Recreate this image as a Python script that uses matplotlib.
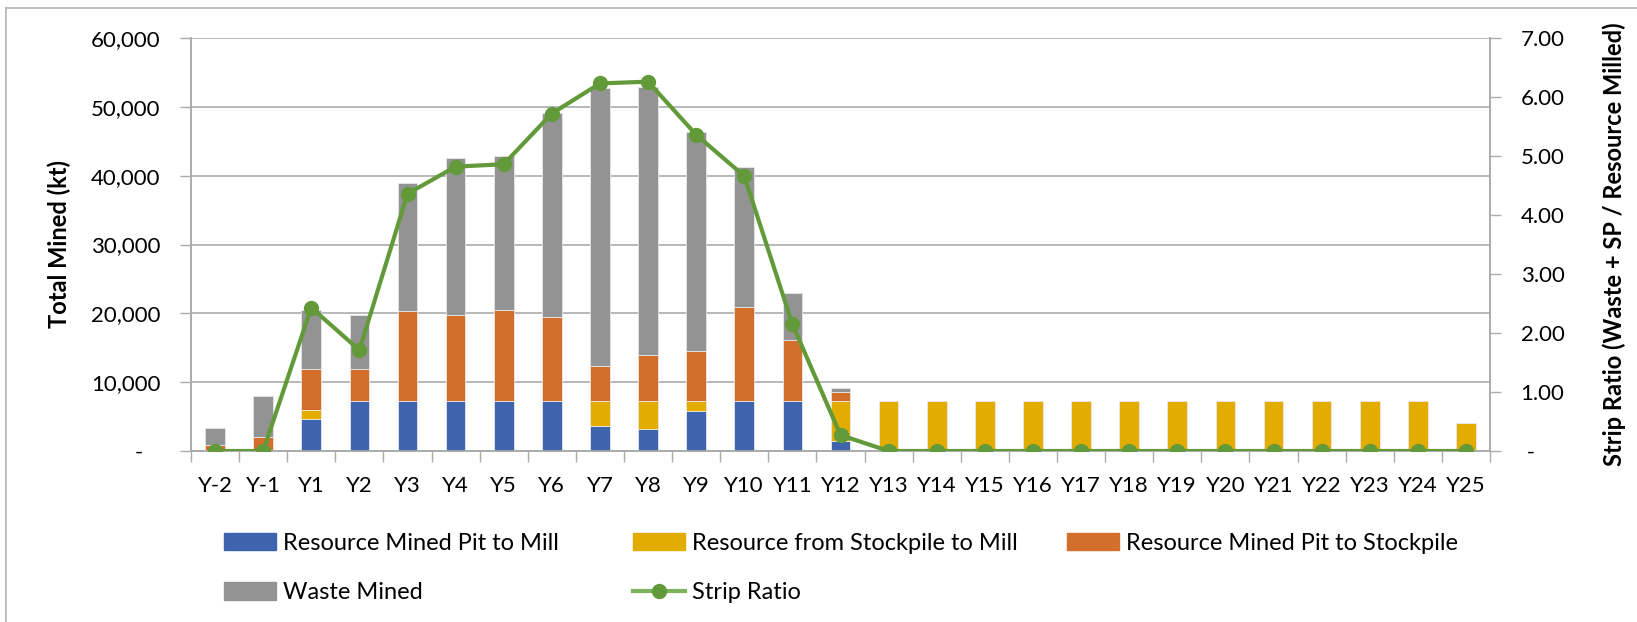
import matplotlib
matplotlib.use("Agg")
import matplotlib.pyplot as plt
from matplotlib.ticker import FuncFormatter, FixedLocator
from matplotlib.lines import Line2D
import numpy as np

plt.rcParams['font.family'] = ['Lato', 'DejaVu Sans']

# data (kt)
years = ['Y-2', 'Y-1', 'Y1', 'Y2', 'Y3', 'Y4', 'Y5', 'Y6', 'Y7', 'Y8', 'Y9',
         'Y10', 'Y11', 'Y12', 'Y13', 'Y14', 'Y15', 'Y16', 'Y17', 'Y18', 'Y19',
         'Y20', 'Y21', 'Y22', 'Y23', 'Y24', 'Y25']
pit_to_mill = [0, 0, 4700, 7260, 7260, 7260, 7260, 7260, 3600, 3200, 5800,
               7260, 7260, 1450, 0, 0, 0, 0, 0, 0, 0, 0, 0, 0, 0, 0, 0]
stockpile_to_mill = [0, 0, 1300, 0, 0, 0, 0, 0, 3660, 4060, 1460,
                     0, 0, 5810, 7260, 7260, 7260, 7260, 7260, 7260, 7260,
                     7260, 7260, 7260, 7260, 7260, 4000]
pit_to_stockpile = [800, 2100, 5900, 4640, 13140, 12440, 13240, 12140, 5140, 6640, 7240,
                    13640, 8840, 1240, 0, 0, 0, 0, 0, 0, 0, 0, 0, 0, 0, 0, 0]
waste = [2500, 5900, 8600, 7800, 18600, 22900, 22400, 29700, 40400, 39000, 31800,
         20400, 6900, 700, 0, 0, 0, 0, 0, 0, 0, 0, 0, 0, 0, 0, 0]
strip_ratio = [0.0, 0.0, 2.43, 1.71, 4.36, 4.82, 4.86, 5.72, 6.23, 6.26, 5.36,
               4.66, 2.15, 0.27, 0, 0, 0, 0, 0, 0, 0, 0, 0, 0, 0, 0, 0]

c_blue = '#3D64AD'
c_yellow = '#E2AC00'
c_orange = '#D46F2B'
c_gray = '#939393'
c_green = '#629A3A'
c_grid = '#ABABAB'

W, H = 1637, 622
fig = plt.figure(figsize=(W / 100, H / 100), dpi=100)
ax = fig.add_axes([191 / W, 1 - 451 / H, (1490 - 191) / W, (451 - 38) / H])
ax2 = ax.twinx()

# chart-area border (only top and left edges are inside the crop)
fig.add_artist(Line2D([6 / W, 1], [1 - 8 / H, 1 - 8 / H], color='#B4B4B4', lw=1.2,
                      transform=fig.transFigure))
fig.add_artist(Line2D([6 / W, 6 / W], [0, 1 - 8 / H], color='#B4B4B4', lw=1.2,
                      transform=fig.transFigure))

x = np.arange(len(years))
w = 0.41
b1 = np.array(pit_to_mill)
b2 = b1 + np.array(stockpile_to_mill)
b3 = b2 + np.array(pit_to_stockpile)
kw = dict(width=w, edgecolor='#E8E8E8', linewidth=0.6, zorder=3)
ax.bar(x, pit_to_mill, color=c_blue, **kw)
ax.bar(x, stockpile_to_mill, bottom=b1, color=c_yellow, **kw)
ax.bar(x, pit_to_stockpile, bottom=b2, color=c_orange, **kw)
ax.bar(x, waste, bottom=b3, color=c_gray, **kw)

ax2.plot(x, strip_ratio, color=c_green, lw=3, marker='o', ms=10, zorder=5)

ax.set_xlim(-0.5, len(years) - 0.5)
ax.set_ylim(0, 60000)
ax.set_yticks(np.arange(0, 60001, 10000))
ax.yaxis.set_major_formatter(FuncFormatter(lambda v, p: '-   ' if v == 0 else f'{v:,.0f}'))
ax2.set_ylim(0, 7)
ax2.set_yticks(np.arange(0, 7.01, 1))
ax2.yaxis.set_major_formatter(FuncFormatter(lambda v, p: ' -' if v == 0 else f'{v:.2f}'))

ax.set_xticks(x)
ax.set_xticklabels(years)
ax.xaxis.set_minor_locator(FixedLocator(np.arange(-0.5, len(years), 1)))
ax.tick_params(axis='x', which='major', length=0, pad=18, labelsize=16)
ax.tick_params(axis='x', which='minor', length=8, color=c_grid, width=1)
ax.tick_params(axis='y', length=8, color=c_grid, width=1, pad=14, labelsize=16)
ax2.tick_params(axis='y', length=8, color=c_grid, width=1, pad=14, labelsize=16)

ax.grid(axis='y', color=c_grid, lw=1.2, zorder=0)
ax.set_axisbelow(True)
for a in (ax, ax2):
    a.spines['top'].set_visible(False)
    for s in ('left', 'right', 'bottom'):
        a.spines[s].set_color(c_grid)
        a.spines[s].set_linewidth(1.2)

ax.set_ylabel('Total Mined (kt)', fontsize=17, fontweight='bold', labelpad=14)
ax2.set_ylabel('Strip Ratio (Waste + SP / Resource Milled)', fontsize=17,
               fontweight='bold', labelpad=27)

# legend: three single-column legends placed like Excel's layout
h_blue = plt.Rectangle((0, 0), 1, 1, color=c_blue)
h_yellow = plt.Rectangle((0, 0), 1, 1, color=c_yellow)
h_orange = plt.Rectangle((0, 0), 1, 1, color=c_orange)
h_gray = plt.Rectangle((0, 0), 1, 1, color=c_gray)
h_sr = Line2D([], [], color='#7DB35A', lw=3, marker='o', ms=10,
              markerfacecolor=c_green, markeredgecolor=c_green)
legend_cols = [
    (224, [h_blue, h_gray], ['Resource Mined Pit to Mill', 'Waste Mined']),
    (633, [h_yellow, h_sr], ['Resource from Stockpile to Mill', 'Strip Ratio']),
    (1067, [h_orange], ['Resource Mined Pit to Stockpile']),
]
for x0, hs, ls in legend_cols:
    leg = fig.legend(hs, ls, loc='upper left', bbox_to_anchor=(x0 / W, 1 - 533 / H),
                     bbox_transform=fig.transFigure, frameon=False, fontsize=17,
                     handlelength=2.2, handleheight=0.75, handletextpad=0.3,
                     labelspacing=1.2, borderaxespad=0, borderpad=0)

fig.savefig('out.png', dpi=100)
